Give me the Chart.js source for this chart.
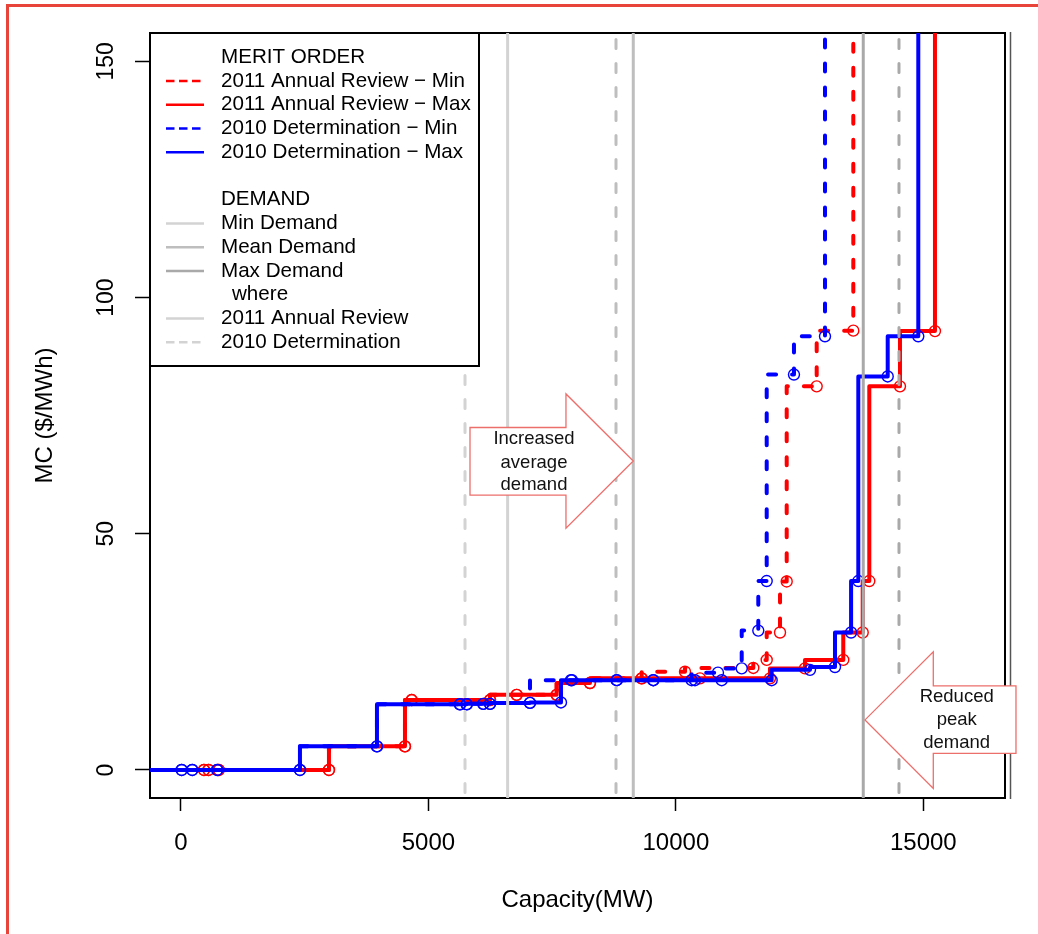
<!DOCTYPE html>
<html>
<head>
<meta charset="utf-8">
<script src="https://cdn.jsdelivr.net/npm/chart.js@4.4.1/dist/chart.umd.min.js"></script>
<style>
  html, body { margin: 0; padding: 0; background: #fff; }
  #wrap { position: relative; width: 1038px; height: 934px; overflow: hidden; }
  #frame { position: absolute; left: 6px; top: 4px; width: 1100px; height: 1000px;
           border-top: 3px solid #e8443a; border-left: 3px solid #e8443a; }
  canvas { position: absolute; left: 0; top: 0; }
</style>
</head>
<body>
<div id="wrap">
  <div id="frame"></div>
  <canvas id="chart" width="1038" height="934"></canvas>
</div>
<script>
const FONT = "'Liberation Sans', Arial, sans-serif";

const xTicks = [0, 5000, 10000, 15000];
const yTicks = [0, 50, 100, 150];

// merit order, 2011 Annual Review (capacity MW / MC $/MWh)
const ar2011MinX = [-1000, 465, 556, 763, 2990, 4526, 4662, 6244, 6783, 7591, 8264, 9309, 10184, 11564, 11835, 12104, 12239, 12845, 13585, 14300];
const ar2011MinY = [0, 0, 0, 0, 0, 5, 14.8, 14.8, 15.9, 15.9, 18.4, 19.4, 20.8, 21.6, 23.3, 29.1, 39.9, 81.2, 93, 400];
const ar2011MaxX = [-1000, 465, 556, 763, 2990, 4526, 4662, 6244, 6783, 7591, 8264, 9309, 10487, 11901, 12608, 13382, 13775, 13908, 14528, 15235, 15900];
const ar2011MaxY = [0, 0, 0, 0, 0, 5, 14.8, 14.8, 15.9, 15.9, 18.4, 19.4, 19.4, 19.4, 21.5, 23.3, 29.1, 40, 81.2, 92.9, 400];

// merit order, 2010 Determination
const det2010MinX = [-1000, 14, 228, 733, 2404, 3960, 5637, 5773, 6108, 6244, 7052, 7900, 8804, 9544, 10319, 10850, 11330, 11665, 11835, 12386, 13013, 13600];
const det2010MinY = [0, 0, 0, 0, 0, 5, 13.9, 13.9, 14, 14, 14.2, 19, 19, 19, 19, 20.6, 21.5, 29.5, 40, 83.7, 91.8, 400];
const det2010MaxX = [-1000, 14, 228, 733, 2404, 3960, 5637, 5773, 6108, 6244, 7052, 7678, 7880, 8804, 9544, 10386, 10926, 11935, 12710, 13215, 13540, 13686, 14280, 14898, 15600];
const det2010MaxY = [0, 0, 0, 0, 0, 5, 13.9, 13.9, 14, 14, 14.2, 14.3, 19, 19, 19, 19, 19, 19, 21.2, 21.8, 29.1, 40, 83.3, 91.8, 400];

// demand: min, mean, max (MW)
const demandNames = ['Min Demand', 'Mean Demand', 'Max Demand'];
const demand2011 = [6600, 9139, 13786];
const demand2010 = [5739, 8790, 14508];

const RED = '#ff0000';
const BLUE = '#0000ff';
const GREYS = ['#d3d3d3', '#bebebe', '#a9a9a9'];

function pts(xs, ys) {
    return xs.map((x, i) => ({ x: x, y: ys[i] }));
}

function meritSeries(label, xs, ys, color, dashed, order) {
    return {
        label: label,
        data: pts(xs, ys),
        stepped: 'after',
        borderColor: color,
        borderWidth: 4,
        borderDash: dashed ? [8, 16] : [],
        borderCapStyle: dashed ? 'round' : 'butt',
        borderJoinStyle: 'round',
        pointStyle: 'circle',
        pointRadius: c => (c.raw && c.raw.x >= 0 && c.raw.y < 200) ? 5.5 : 0,
        pointBorderColor: color,
        pointBackgroundColor: 'rgba(0,0,0,0)',
        pointBorderWidth: 1.4,
        fill: false,
        order: order
    };
}

function demandSeries(label, x, color, dashed) {
    return {
        label: label,
        data: [{ x: x, y: -20 }, { x: x, y: 300 }],
        borderColor: color,
        borderWidth: 3,
        borderDash: dashed ? [9, 15] : [],
        borderCapStyle: dashed ? 'round' : 'butt',
        pointRadius: 0,
        fill: false,
        order: 0
    };
}

const datasets = [
    meritSeries('2011 Annual Review − Min', ar2011MinX, ar2011MinY, RED, true, 4),
    meritSeries('2011 Annual Review − Max', ar2011MaxX, ar2011MaxY, RED, false, 3),
    meritSeries('2010 Determination − Min', det2010MinX, det2010MinY, BLUE, true, 2),
    meritSeries('2010 Determination − Max', det2010MaxX, det2010MaxY, BLUE, false, 1)
];
demandNames.forEach((n, i) => {
    datasets.push(demandSeries(n + ' 2011', demand2011[i], GREYS[i], false));
    datasets.push(demandSeries(n + ' 2010', demand2010[i], GREYS[i], true));
});

const legendRows = [
    { text: 'MERIT ORDER' },
    { text: '2011 Annual Review − Min', color: RED, dash: true },
    { text: '2011 Annual Review − Max', color: RED },
    { text: '2010 Determination − Min', color: BLUE, dash: true },
    { text: '2010 Determination − Max', color: BLUE },
    { text: '' },
    { text: 'DEMAND' },
    { text: demandNames[0], color: GREYS[0] },
    { text: demandNames[1], color: GREYS[1] },
    { text: demandNames[2], color: GREYS[2] },
    { text: 'where', indent: true },
    { text: '2011 Annual Review', color: GREYS[0] },
    { text: '2010 Determination', color: GREYS[0], dash: true }
];

// block arrows added on top of the plot (data units)
const arrows = [
    { base: 5840, neck: 7779, tip: 9139, bodyTop: 72.5, bodyBot: 58.2, headTop: 79.6, headBot: 51.2, tipY: 65.4,
      textX: 7133, lines: ['Increased', 'average', 'demand'], lineY: [70.1, 65.0, 60.3] },
    { base: 16872, neck: 15201, tip: 13821, bodyTop: 17.8, bodyBot: 3.5, headTop: 25.0, headBot: -3.9, tipY: 10.6,
      textX: 15674, lines: ['Reduced', 'peak', 'demand'], lineY: [15.5, 10.6, 5.8] }
];

function drawArrow(ctx, xs, ys, a) {
    const X = v => xs.getPixelForValue(v);
    const Y = v => ys.getPixelForValue(v);
    ctx.beginPath();
    ctx.moveTo(X(a.base), Y(a.bodyTop));
    ctx.lineTo(X(a.neck), Y(a.bodyTop));
    ctx.lineTo(X(a.neck), Y(a.headTop));
    ctx.lineTo(X(a.tip), Y(a.tipY));
    ctx.lineTo(X(a.neck), Y(a.headBot));
    ctx.lineTo(X(a.neck), Y(a.bodyBot));
    ctx.lineTo(X(a.base), Y(a.bodyBot));
    ctx.closePath();
    ctx.fillStyle = '#fff';
    ctx.fill();
    ctx.strokeStyle = '#ec6f6b';
    ctx.lineWidth = 1.3;
    ctx.stroke();
    ctx.fillStyle = '#111';
    ctx.font = '18.5px ' + FONT;
    ctx.textAlign = 'center';
    ctx.textBaseline = 'middle';
    a.lines.forEach((t, i) => ctx.fillText(t, X(a.textX), Y(a.lineY[i])));
}

const rPlot = {
    id: 'rPlot',
    beforeDatasetsDraw(chart) {
        const { ctx, chartArea: a } = chart;
        ctx.save();
        ctx.strokeStyle = '#000';
        ctx.lineWidth = 2;
        ctx.strokeRect(a.left, a.top, a.right - a.left, a.bottom - a.top);
        ctx.strokeStyle = '#555';
        ctx.lineWidth = 1.5;
        ctx.beginPath();
        ctx.moveTo(a.right + 5.5, a.top - 1);
        ctx.lineTo(a.right + 5.5, a.bottom + 1);
        ctx.stroke();
        ctx.restore();
    },
    afterDatasetsDraw(chart) {
        const { ctx, chartArea: a } = chart;
        const xs = chart.scales.x, ys = chart.scales.y;
        ctx.save();

        // y tick labels, rotated like R's default las = 0
        ctx.fillStyle = '#000';
        ctx.font = '23px ' + FONT;
        ctx.textAlign = 'center';
        ctx.textBaseline = 'middle';
        yTicks.forEach(v => {
            ctx.save();
            ctx.translate(a.left - 43.5, ys.getPixelForValue(v));
            ctx.rotate(-Math.PI / 2);
            ctx.fillText(String(v), 0, 0);
            ctx.restore();
        });

        // legend box
        const lx = a.left, ly = a.top, lw = 329, lh = 333;
        ctx.fillStyle = '#fff';
        ctx.fillRect(lx, ly, lw, lh);
        ctx.strokeStyle = '#000';
        ctx.lineWidth = 2;
        ctx.strokeRect(lx, ly, lw, lh);
        ctx.font = '20.6px ' + FONT;
        ctx.textAlign = 'left';
        legendRows.forEach((r, i) => {
            const yy = ly + 24.3 + i * 23.75;
            if (r.color) {
                ctx.strokeStyle = r.color;
                ctx.lineWidth = 2.5;
                ctx.setLineDash(r.dash ? [8.5, 4.5] : []);
                ctx.beginPath();
                ctx.moveTo(lx + 16, yy);
                ctx.lineTo(lx + 54, yy);
                ctx.stroke();
                ctx.setLineDash([]);
            }
            ctx.fillStyle = '#000';
            ctx.fillText(r.text, lx + (r.indent ? 82 : 71), yy);
        });

        arrows.forEach(ar => drawArrow(ctx, xs, ys, ar));
        ctx.restore();
    }
};

new Chart(document.getElementById('chart'), {
    type: 'line',
    data: { datasets: datasets },
    plugins: [rPlot],
    options: {
        responsive: false,
        animation: false,
        events: [],
        layout: { padding: { top: 33, right: 33, left: 0, bottom: 0 } },
        plugins: { legend: { display: false }, tooltip: { enabled: false } },
        scales: {
            x: {
                type: 'linear',
                min: -626,
                max: 16650,
                afterFit: s => { s.height = 136; },
                afterBuildTicks: s => { s.ticks = xTicks.map(v => ({ value: v })); },
                border: { display: false },
                grid: { drawOnChartArea: false, drawTicks: true, tickLength: 13, tickColor: '#000', tickWidth: 1.5 },
                ticks: { color: '#000', font: { family: FONT, size: 24 }, padding: 18,
                         maxRotation: 0, minRotation: 0, autoSkip: false, callback: v => String(v) },
                title: { display: true, text: 'Capacity(MW)', color: '#000',
                         font: { family: FONT, size: 24 }, padding: { top: 0, bottom: 19.6 } }
            },
            y: {
                type: 'linear',
                min: -5.93,
                max: 156,
                afterFit: s => { s.width = 150; },
                afterBuildTicks: s => { s.ticks = yTicks.map(v => ({ value: v })); },
                border: { display: false },
                grid: { drawOnChartArea: false, drawTicks: true, tickLength: 15, tickColor: '#000', tickWidth: 1.5 },
                ticks: { display: false },
                title: { display: true, text: 'MC ($/MWh)', color: '#000',
                         font: { family: FONT, size: 24 }, padding: { top: 31, bottom: 0 } }
            }
        }
    }
});
</script>
</body>
</html>
